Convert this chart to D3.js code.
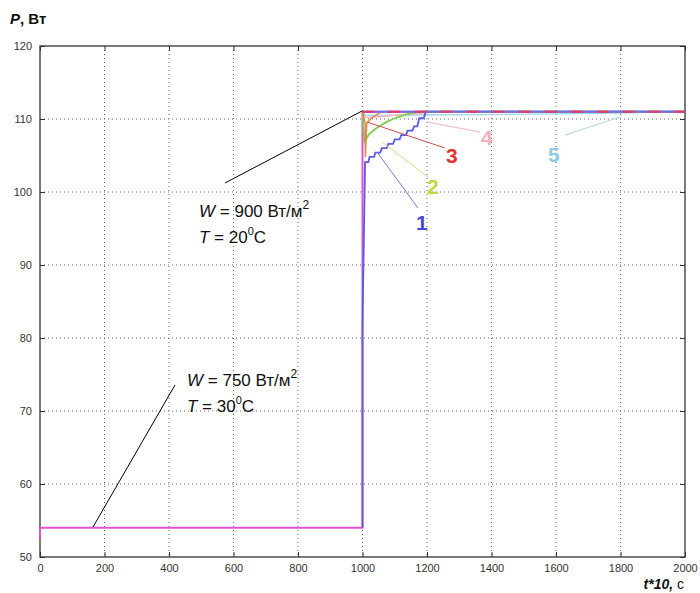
<!DOCTYPE html>
<html>
<head>
<meta charset="utf-8">
<script src="https://cdnjs.cloudflare.com/ajax/libs/d3/7.8.5/d3.min.js"></script>
<style>
  body { margin: 0; background: #fff; }
  svg { font-family: Arial, "Liberation Sans", sans-serif; }
</style>
</head>
<body>
<svg width="700" height="593"></svg>
<script>
// x ticks (t*10, c) and y ticks (P, Вт)
var xTicks = [0, 200, 400, 600, 800, 1000, 1200, 1400, 1600, 1800, 2000];
var yTicks = [50, 60, 70, 80, 90, 100, 110, 120];

// main power curve (magenta)
var mainT = [0, 0, 1000, 1000, 2000];
var mainP = [52.5, 54, 54, 111, 111];

// curve 1 (blue)
var t1 = [1000, 1000, 1008, 1018, 1022, 1036, 1040, 1055, 1060, 1075, 1080, 1095, 1100, 1115, 1120, 1135, 1140, 1155, 1160, 1170, 1176, 1190, 1196, 1210, 2000];
var p1 = [54, 82, 104.1, 104.1, 104.8, 104.8, 105.4, 105.4, 106.0, 106.0, 106.6, 106.6, 107.2, 107.2, 107.8, 107.8, 108.4, 108.4, 109.0, 109.0, 110.1, 110.1, 111, 111, 111];

// curve 2 (green)
var t2 = [1000, 1006, 1012, 1020, 1030, 1045, 1060, 1075, 1090, 1105, 1120, 1135, 1150, 1165, 1175, 2000];
var p2 = [111, 106.7, 107.3, 107.9, 108.3, 108.8, 109.2, 109.6, 109.9, 110.2, 110.4, 110.6, 110.8, 110.9, 111, 111];

// curve 3 (red)
var t3 = [1000, 1009, 1009, 1013, 1025, 1040, 1060, 2000];
var p3 = [111, 109.2, 104.8, 109.4, 110.0, 110.5, 111, 111];

// curve 4 (pink)
var t4 = [1000, 1010, 1050, 1100, 1150, 1200, 1250, 2000];
var p4 = [111, 110.2, 110.3, 110.5, 110.7, 110.9, 111, 111];

// curve 5 (cyan)
var t5 = [1000, 1010, 1200, 1400, 1600, 1800, 1950, 2000];
var p5 = [111, 110.5, 110.55, 110.6, 110.7, 110.8, 111, 111];

// steady state level, drawn dashed on top
var plateauT = [1000, 2000];
var plateauP = [111, 111];

var margin = { top: 46, right: 15, bottom: 36, left: 40 };
var canvasWidth = 700;
var canvasHeight = 593;
var width = canvasWidth - margin.left - margin.right;
var height = canvasHeight - margin.top - margin.bottom;

var svg = d3.select('svg');
var g = svg.append('g')
  .attr('transform', 'translate(' + margin.left + ',' + margin.top + ')');

var xScale = d3.scaleLinear().domain([0, 2000]).range([0, width]);
var yScale = d3.scaleLinear().domain([50, 120]).range([height, 0]);

// grid
g.selectAll('.gx').data(xTicks.slice(1, -1)).enter().append('line')
  .attr('x1', function(d) { return xScale(d); })
  .attr('x2', function(d) { return xScale(d); })
  .attr('y1', 0).attr('y2', height)
  .attr('stroke', '#666').attr('stroke-width', 1)
  .attr('stroke-dasharray', '1,3');
g.selectAll('.gy').data(yTicks.slice(1, -1)).enter().append('line')
  .attr('y1', function(d) { return yScale(d); })
  .attr('y2', function(d) { return yScale(d); })
  .attr('x1', 0).attr('x2', width)
  .attr('stroke', '#666').attr('stroke-width', 1)
  .attr('stroke-dasharray', '1,3');

// axes, ticks pointing inward like matlab
var fmt = d3.format('d');
var xAxis = d3.axisBottom(xScale).tickValues(xTicks).tickFormat(fmt).tickSizeInner(-5).tickSizeOuter(0).tickPadding(7);
var yAxis = d3.axisLeft(yScale).tickValues(yTicks).tickFormat(fmt).tickSizeInner(-5).tickSizeOuter(0).tickPadding(8);
var gx = g.append('g').attr('transform', 'translate(0,' + height + ')').call(xAxis);
var gy = g.append('g').call(yAxis);
g.append('g').call(d3.axisTop(xScale).tickValues(xTicks).tickSizeInner(-5).tickSizeOuter(0).tickFormat(''));
g.append('g').attr('transform', 'translate(' + width + ',0)')
  .call(d3.axisRight(yScale).tickValues(yTicks).tickSizeInner(-5).tickSizeOuter(0).tickFormat(''));
g.selectAll('.domain').remove();
g.selectAll('.tick line').attr('stroke', '#333');
gx.selectAll('text').style('font-size', '11px').attr('fill', '#333');
gy.selectAll('text').style('font-size', '11px').attr('fill', '#333');

g.append('rect')
  .attr('width', width).attr('height', height)
  .attr('fill', 'none').attr('stroke', '#333').attr('stroke-width', 1.3);

var line = d3.line()
  .x(function(d) { return xScale(d[0]); })
  .y(function(d) { return yScale(d[1]); });

function drawSeries(ts, ps, color, w, dash) {
  var pts = ts.map(function(t, i) { return [t, ps[i]]; });
  var path = g.append('path')
    .attr('d', line(pts))
    .attr('fill', 'none')
    .attr('stroke', color)
    .attr('stroke-width', w);
  if (dash) path.attr('stroke-dasharray', dash);
}

drawSeries(t5, p5, '#9fd6e8', 1.3);
drawSeries(t4, p4, '#f6b3c2', 1.5);
drawSeries(mainT, mainP, '#e452d4', 2);
drawSeries(t1, p1, '#5a5ae6', 1.8);
drawSeries(t2, p2, '#78d34a', 1.8);
drawSeries(t3, p3, '#e0884a', 1.5);
drawSeries(plateauT, plateauP, '#7070e8', 2);
drawSeries(plateauT, plateauP, '#e23a6a', 2, '12,14');

// pointer lines
var pointers = [
  [225, 183, 362, 111, '#000'],
  [93, 527, 175, 385, '#000'],
  [377, 152, 418, 208, '#7878e0'],
  [382, 142, 428, 177, '#c8e090'],
  [367, 122, 445, 148, '#d05050'],
  [427, 122, 480, 132, '#f6b3c2'],
  [620, 117, 565, 135, '#a8dccb']
];
pointers.forEach(function(p) {
  svg.append('line')
    .attr('x1', p[0]).attr('y1', p[1]).attr('x2', p[2]).attr('y2', p[3])
    .attr('stroke', p[4]).attr('stroke-width', 1);
});

// curve labels
var labels = [
  ['1', 416, 230, '#4848d8'],
  ['2', 427, 194, '#b8dc3c'],
  ['3', 446, 163, '#e03434'],
  ['4', 481, 145, '#f4b0bc'],
  ['5', 548, 162, '#90cce0']
];
labels.forEach(function(l) {
  svg.append('text')
    .attr('x', l[1]).attr('y', l[2])
    .style('font-size', '21px').style('font-weight', 'bold')
    .attr('fill', l[3]).text(l[0]);
});

// condition annotations
function annot(x, y, w, tt) {
  var t1 = svg.append('text').attr('x', x).attr('y', y).style('font-size', '17px').attr('fill', '#111');
  t1.append('tspan').style('font-style', 'italic').text('W');
  t1.append('tspan').text(' = ' + w + ' Вт/м');
  t1.append('tspan').attr('dy', -8).style('font-size', '12px').text('2');
  var t2 = svg.append('text').attr('x', x).attr('y', y + 26).style('font-size', '17px').attr('fill', '#111');
  t2.append('tspan').style('font-style', 'italic').text('T');
  t2.append('tspan').text(' = ' + tt);
  t2.append('tspan').attr('dy', -8).style('font-size', '11px').text('0');
  t2.append('tspan').attr('dy', 8).text('C');
}
annot(199, 217, 900, 20);
annot(187, 386, 750, 30);

// axis titles
var yl = svg.append('text').attr('x', 10).attr('y', 24).style('font-size', '15px').style('font-weight', 'bold').attr('fill', '#111');
yl.append('tspan').style('font-style', 'italic').text('P');
yl.append('tspan').text(', Вт');

var xl = svg.append('text').attr('x', 684).attr('y', 589).attr('text-anchor', 'end')
  .style('font-size', '14px').style('font-weight', 'bold').attr('fill', '#111');
xl.append('tspan').style('font-style', 'italic').text('t*10,');
xl.append('tspan').style('font-weight', 'normal').text(' c');
</script>
</body>
</html>
